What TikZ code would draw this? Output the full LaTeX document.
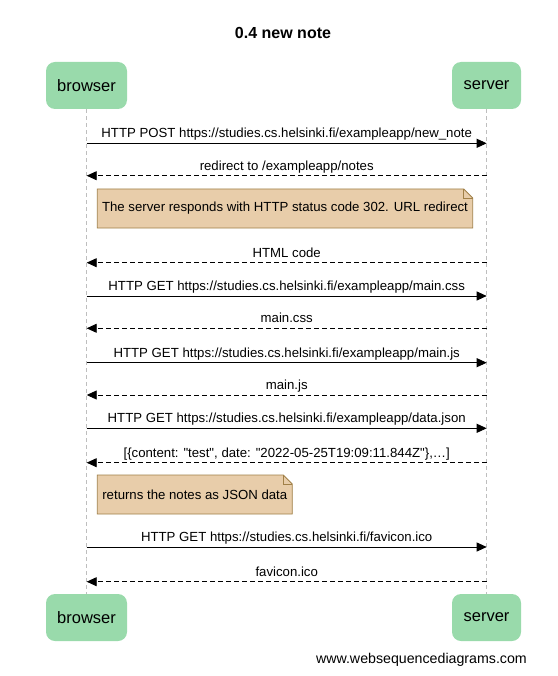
\documentclass[tikz,border=0pt]{standalone}
\usepackage{fontspec}
\setmainfont{Liberation Sans}
\newfontfamily\plainq{Liberation Sans}
\usetikzlibrary{arrows.meta,calc}
\definecolor{actorfill}{RGB}{153,218,171}
\definecolor{notefill}{RGB}{232,205,170}
\definecolor{notedraw}{RGB}{160,128,72}
\definecolor{lifegray}{RGB}{190,190,190}
\tikzset{
  x=1pt,y=-1pt,
  actor/.style={fill=actorfill,rounded corners=9pt,minimum width=#1,minimum height=47pt,inner sep=0pt,font=\fontsize{16.5}{18}\selectfont},
  lifeline/.style={draw=lifegray,dash pattern=on 4pt off 3pt,line width=0.8pt},
  req/.style={draw=black,line width=0.9pt,-{Triangle[length=10pt,width=9pt]}},
  resp/.style={draw=black,line width=0.9pt,dash pattern=on 5pt off 3pt,-{Triangle[length=10pt,width=9pt]}},
  msg/.style={font=\fontsize{13.2}{15}\selectfont,inner sep=0pt,anchor=base,yshift=5.5pt},
  notetext/.style={font=\fontsize{13.2}{15}\selectfont,inner sep=0pt},
}
\newcommand{\notebox}[5]{% name, x1, y1, x2, y2
  \fill[notefill] (#2,#3) -- (#4-9,#3) -- (#4,#3+9) -- (#4,#5) -- (#2,#5) -- cycle;
  \draw[notedraw,line width=0.8pt] (#2,#3) -- (#4-9,#3) -- (#4,#3+9) -- (#4,#5) -- (#2,#5) -- cycle;
  \draw[notedraw,line width=0.6pt] (#4-9,#3) -- (#4-9,#3+9) -- (#4,#3+9);
  \coordinate (#1) at ({(#2+#4)/2},{(#3+#5)/2});
}
\begin{document}
\begin{tikzpicture}
\useasboundingbox (0,0) rectangle (557,676);
\node[font=\bfseries\fontsize{16}{18}\selectfont] (title) at (283,33) {0.4 new note};
% actors
\node[actor=81pt] (bt) at (86.5,85.5) {browser};
\node[actor=69pt] (st) at (486.5,85.5) {server};
\node[actor=81pt] (bb) at (86.5,617.5) {browser};
\node[actor=69pt] (sb) at (486.5,617.5) {server};
\draw[lifeline] (bt.south) -- (bb.north);
\draw[lifeline] (st.south) -- (sb.north);
% message coordinates
\foreach \i/\y in {1/143.3,2/175.7,3/262.7,4/296,5/328.3,6/362.7,7/395,8/428.3,9/462.7,10/547,11/581.7}{
  \coordinate (b\i) at (86.7,\y);
  \coordinate (s\i) at (486.7,\y);
}
\draw[req] (b1) -- node[msg] {HTTP POST https://studies.cs.helsinki.fi/exampleapp/new\_note} (s1);
\draw[resp] (s2) -- node[msg] {redirect to /exampleapp/notes} (b2);
\notebox{n1}{97.3}{189}{472.7}{228}
\node[notetext] (n1t) at (n1) {The server responds with HTTP status code 302. URL redirect};
\draw[resp] (s3) -- node[msg] {HTML code} (b3);
\draw[req] (b4) -- node[msg] {HTTP GET https://studies.cs.helsinki.fi/exampleapp/main.css} (s4);
\draw[resp] (s5) -- node[msg] {main.css} (b5);
\draw[req] (b6) -- node[msg] {HTTP GET https://studies.cs.helsinki.fi/exampleapp/main.js} (s6);
\draw[resp] (s7) -- node[msg] {main.js} (b7);
\draw[req] (b8) -- node[msg] {HTTP GET https://studies.cs.helsinki.fi/exampleapp/data.json} (s8);
\draw[resp] (s9) -- node[msg] {\plainq [\{content: "test", date: "2022-05-25T19:09:11.844Z"\},…]} (b9);
\notebox{n2}{97.3}{475}{292.3}{514}
\node[notetext] (n2t) at (n2) {returns the notes as JSON data};
\draw[req] (b10) -- node[msg] {HTTP GET https://studies.cs.helsinki.fi/favicon.ico} (s10);
\draw[resp] (s11) -- node[msg] {favicon.ico} (b11);
\node[font=\fontsize{14.2}{16}\selectfont,anchor=east,inner sep=0pt] (wm) at (527,660) {www.websequencediagrams.com};
\end{tikzpicture}
\end{document}
